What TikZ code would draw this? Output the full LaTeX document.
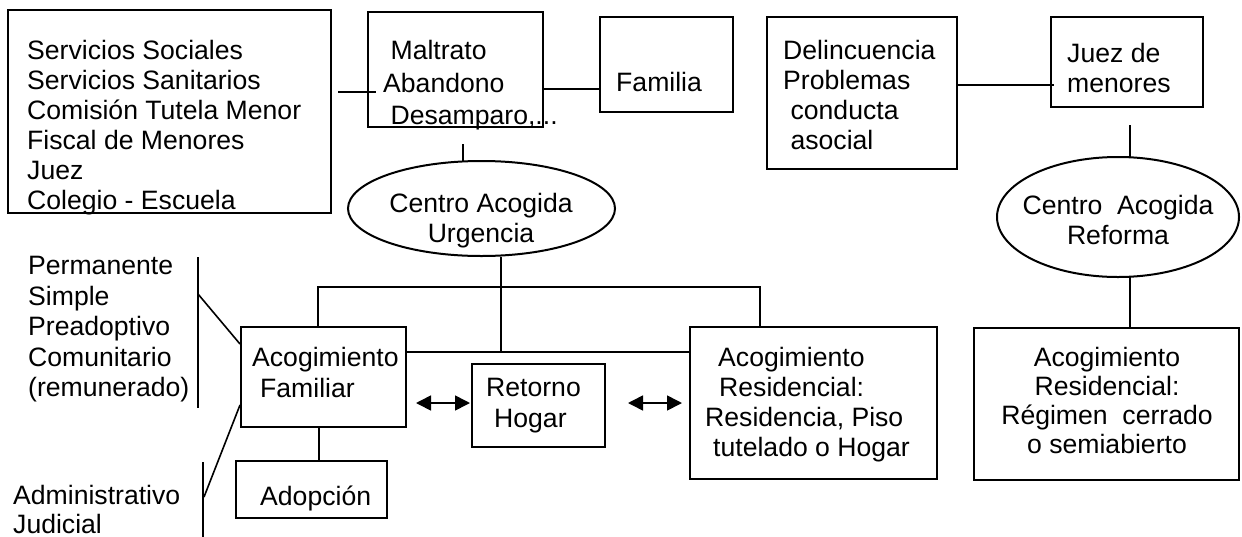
\documentclass[tikz,border=0pt]{standalone}
\usepackage{fontspec}
\setmainfont{Liberation Sans}
\usetikzlibrary{arrows.meta,shapes.geometric}
\begin{document}
\begin{tikzpicture}[x=1pt,y=-1pt,
  box/.style={draw, line width=2pt, inner sep=0pt},
  oval/.style={draw, ellipse, line width=2pt, inner sep=0pt},
  conn/.style={line width=1.6pt},
  txt/.style={inner sep=0pt, anchor=north west, align=left, font=\fontsize{26.6}{30}\selectfont},
  ctxt/.style={txt, anchor=north, align=center},
  dbl/.style={conn, {Triangle[length=15pt,width=15pt]}-{Triangle[length=15pt,width=15pt]}}
]
\useasboundingbox (0,0) rectangle (1242,536);

% boxes
\node[box, minimum width=323pt, minimum height=203pt] (src) at (169.5,111.5) {};
\node[box, minimum width=175pt, minimum height=115pt] (mal) at (455.5,69.5) {};
\node[box, minimum width=133pt, minimum height=95pt] (fam) at (666.5,64.5) {};
\node[box, minimum width=190pt, minimum height=152pt] (del) at (862,93) {};
\node[box, minimum width=152pt, minimum height=90pt] (juez) at (1127,62) {};
\node[oval, minimum width=267pt, minimum height=95pt] (urg) at (481.5,208.5) {};
\node[oval, minimum width=242pt, minimum height=120pt] (ref) at (1118,217) {};
\node[box, minimum width=165pt, minimum height=100pt] (af) at (323.5,377) {};
\node[box, minimum width=151pt, minimum height=57pt] (adop) at (311.5,489.5) {};
\node[box, minimum width=133pt, minimum height=83pt] (ret) at (538.5,405.5) {};
\node[box, minimum width=247pt, minimum height=152pt] (ar) at (813.5,403) {};
\node[box, minimum width=265pt, minimum height=152pt] (rr) at (1106.5,404) {};

% texts
\node[txt] (tsrc) at (27,38.5) {\strut Servicios Sociales\\\strut Servicios Sanitarios\\\strut Comisión Tutela Menor\\\strut Fiscal de Menores\\\strut Juez\\\strut Colegio - Escuela};
\node[txt] (tmal) at (383,38.5) {\strut\hspace*{7.4pt}Maltrato\\[2.5pt]\strut Abandono\\[2.5pt]\strut\hspace*{7.4pt}Desamparo,...};
\node[txt] (tfam) at (616,70.5) {\strut Familia};
\node[txt] (tdel) at (783,38.5) {\strut Delincuencia\\\strut Problemas\\\strut\hspace*{7.4pt}conducta\\\strut\hspace*{7.4pt}asocial};
\node[txt] (tjuez) at (1067,41.5) {\strut Juez de\\\strut menores};
\node[ctxt] (turg) at (481,191.5) {\strut Centro Acogida\\\strut Urgencia};
\node[ctxt] (tref) at (1118,193.5) {\strut Centro\ \ Acogida\\\strut Reforma};
\node[txt] (tperm) at (28,253.5) {\strut Permanente\\[0.5pt]\strut Simple\\[0.5pt]\strut Preadoptivo\\[0.5pt]\strut Comunitario\\[0.5pt]\strut (remunerado)};
\node[txt] (tadm) at (13,483) {\strut Administrativo\\[-1pt]Judicial};
\node[txt] (taf) at (252,345.5) {\strut Acogimiento\\[1pt]\strut\hspace*{8pt}Familiar};
\node[txt] (tadop) at (260,484.5) {\strut Adopción};
\node[txt] (tret) at (486,375.5) {\strut Retorno\\[1pt]\strut\hspace*{8pt}Hogar};
\node[txt] (tar) at (705,345.5) {\strut\hspace*{13pt}Acogimiento\\\strut\hspace*{14pt}Residencial:\\\strut Residencia, Piso\\\strut\hspace*{8pt}tutelado o Hogar};
\node[ctxt, font=\fontsize{26.6}{29}\selectfont] (trr) at (1107,346) {\strut Acogimiento\\\strut Residencial:\\\strut Régimen\ \ cerrado\\\strut o semiabierto};

% side bars
\coordinate (b1t) at (198,257);
\coordinate (b1b) at (198,408);
\coordinate (b2t) at (203,462);
\coordinate (b2b) at (203,540);
\draw[conn] (b1t) -- (b1b);
\draw[conn] (b2t) -- (b2b);
\draw[conn] (b1t |- 0,294) -- ([shift={(0,-33)}]af.west);
\draw[conn] ([shift={(1,0)}]b2t |- 0,497) -- ([shift={(0,28)}]af.west);

% top connectors
\draw[conn] ([shift={(6,-19.5)}]src.east) -- ([shift={(9,22.5)}]mal.west);
\draw[conn] ([shift={(0,19.5)}]mal.east) -- ([shift={(0,24.5)}]fam.west);
\draw[conn] ([shift={(7.5,16)}]mal.south) -- ([shift={(-18.5,1)}]urg.north);
\draw[conn] ([shift={(0,-8)}]del.east) -- ([shift={(4,23)}]juez.west);
\draw[conn] ([shift={(3,17)}]juez.south) -- ([shift={(12,1)}]ref.north);
\draw[conn] ([shift={(12,-1)}]ref.south) -- ([shift={(23.5,2)}]rr.north);

% tree below Urgencia
\coordinate (top) at (500.7,287);
\coordinate (A) at ([shift={(-5.5,0)}]af.north);
\coordinate (B) at ([shift={(-53.5,0)}]ar.north);
\coordinate (L) at ([shift={(0,-25)}]af.east);
\coordinate (R) at ([shift={(0,-51)}]ar.west);
\draw[conn] (A) -- (A |- top) -- (B |- top) -- (B);
\draw[conn] (L) -- (R);
\draw[conn] ([shift={(19.2,-0.5)}]urg.south) -- ([shift={(19.2,-0.5)}]urg.south |- L);
\draw[conn] ([shift={(-4.5,0)}]af.south) -- ([shift={(7.5,0)}]adop.north);

% double arrows
\draw[dbl] ([shift={(9,26)}]af.east) -- ([shift={(-1,-2.5)}]ret.west);
\draw[dbl] ([shift={(22,-2.5)}]ret.east) -- ([shift={(-7,0)}]ar.west);
\end{tikzpicture}
\end{document}
